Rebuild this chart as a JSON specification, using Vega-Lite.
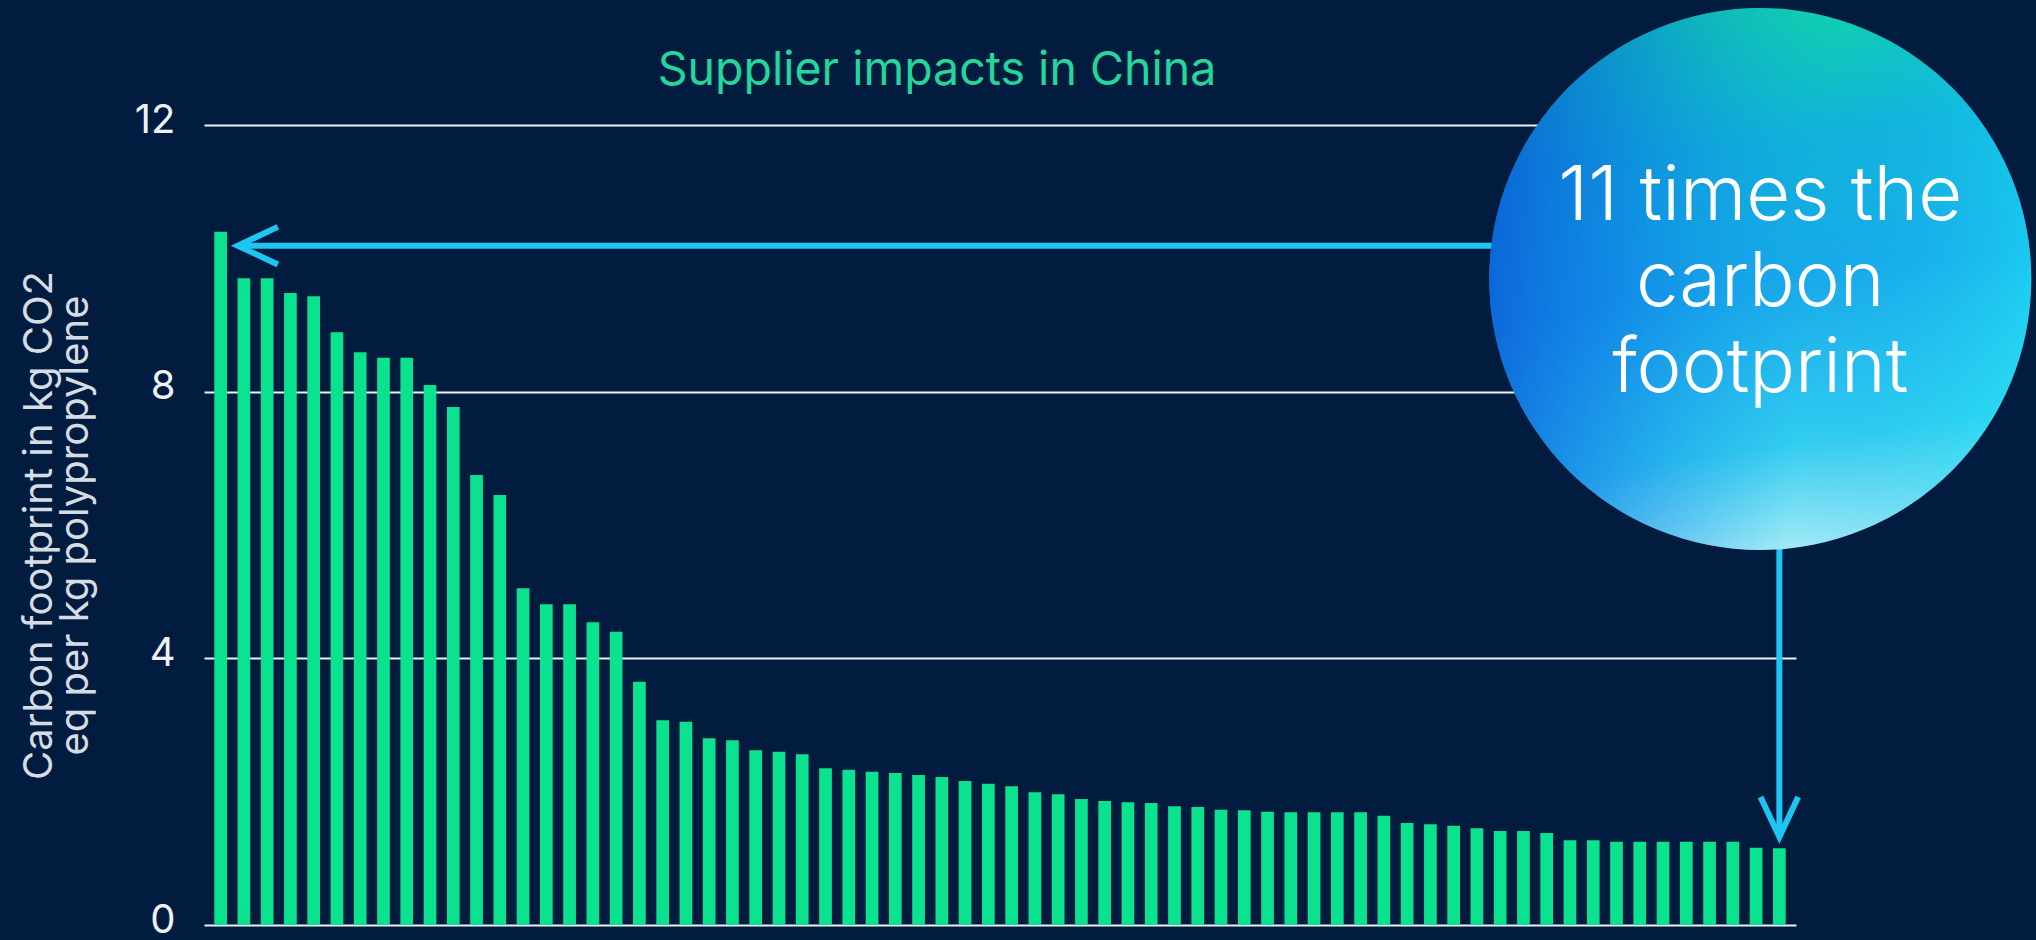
{
  "$schema": "https://vega.github.io/schema/vega-lite/v6.json",
  "width": 1592,
  "height": 800,
  "autosize": {"type": "none"},
  "padding": {"left": 204, "top": 125, "right": 240, "bottom": 15},
  "background": "#011c3e",
  "config": {"view": {"stroke": null}, "font": "Inter"},
  "datasets": {
    "bars": [
      {"rank": 1, "value": 10.40}, {"rank": 2, "value": 9.70}, {"rank": 3, "value": 9.70},
      {"rank": 4, "value": 9.48}, {"rank": 5, "value": 9.43}, {"rank": 6, "value": 8.89},
      {"rank": 7, "value": 8.59}, {"rank": 8, "value": 8.51}, {"rank": 9, "value": 8.51},
      {"rank": 10, "value": 8.10}, {"rank": 11, "value": 7.77}, {"rank": 12, "value": 6.75},
      {"rank": 13, "value": 6.45}, {"rank": 14, "value": 5.05}, {"rank": 15, "value": 4.81},
      {"rank": 16, "value": 4.81}, {"rank": 17, "value": 4.54}, {"rank": 18, "value": 4.40},
      {"rank": 19, "value": 3.65}, {"rank": 20, "value": 3.07}, {"rank": 21, "value": 3.05},
      {"rank": 22, "value": 2.80}, {"rank": 23, "value": 2.77}, {"rank": 24, "value": 2.62},
      {"rank": 25, "value": 2.60}, {"rank": 26, "value": 2.56}, {"rank": 27, "value": 2.35},
      {"rank": 28, "value": 2.33}, {"rank": 29, "value": 2.30}, {"rank": 30, "value": 2.28},
      {"rank": 31, "value": 2.25}, {"rank": 32, "value": 2.22}, {"rank": 33, "value": 2.16},
      {"rank": 34, "value": 2.12}, {"rank": 35, "value": 2.08}, {"rank": 36, "value": 1.99},
      {"rank": 37, "value": 1.96}, {"rank": 38, "value": 1.89}, {"rank": 39, "value": 1.86},
      {"rank": 40, "value": 1.84}, {"rank": 41, "value": 1.83}, {"rank": 42, "value": 1.78},
      {"rank": 43, "value": 1.77}, {"rank": 44, "value": 1.73}, {"rank": 45, "value": 1.72},
      {"rank": 46, "value": 1.70}, {"rank": 47, "value": 1.69}, {"rank": 48, "value": 1.69},
      {"rank": 49, "value": 1.69}, {"rank": 50, "value": 1.69}, {"rank": 51, "value": 1.64},
      {"rank": 52, "value": 1.53}, {"rank": 53, "value": 1.51}, {"rank": 54, "value": 1.49},
      {"rank": 55, "value": 1.45}, {"rank": 56, "value": 1.41}, {"rank": 57, "value": 1.41},
      {"rank": 58, "value": 1.38}, {"rank": 59, "value": 1.27}, {"rank": 60, "value": 1.27},
      {"rank": 61, "value": 1.25}, {"rank": 62, "value": 1.25}, {"rank": 63, "value": 1.25},
      {"rank": 64, "value": 1.25}, {"rank": 65, "value": 1.25}, {"rank": 66, "value": 1.25},
      {"rank": 67, "value": 1.16}, {"rank": 68, "value": 1.15}
    ]
  },
  "encoding": {
    "x": {"field": "rank", "type": "quantitative", "scale": {"domain": [0.5, 68.5]}, "axis": null},
    "y": {
      "field": "value",
      "type": "quantitative",
      "scale": {"domain": [0, 12]},
      "axis": {
        "values": [0, 4, 8, 12],
        "title": ["Carbon footprint in kg CO2", "eq per kg polypropylene"],
        "grid": true,
        "gridColor": "#eef0f3",
        "gridWidth": 2,
        "gridOpacity": 1,
        "domain": false,
        "ticks": false,
        "labelFont": "Inter",
        "labelFontSize": 40,
        "labelFontWeight": 400,
        "labelColor": "#eef1f5",
        "labelPadding": 29,
        "labelOffset": -5,
        "titleFont": "Inter",
        "titleFontSize": 40,
        "titleFontWeight": 400,
        "titleColor": "#d6dce4",
        "titleLineHeight": 36,
        "titleAngle": -90,
        "titleAlign": "center",
        "titleBaseline": "middle",
        "titleX": -165,
        "titleY": 400
      }
    }
  },
  "layer": [
    {
      "data": {"name": "bars"},
      "mark": {"type": "bar", "color": "#0be290", "size": 12.7}
    },
    {
      "data": {"values": [{"rank": 1.74, "rank2": 60, "value": 10.19}]},
      "mark": {"type": "rule", "color": "#1ec5f2", "strokeWidth": 6},
      "encoding": {"x2": {"field": "rank2"}}
    },
    {
      "data": {"values": [{"rank": 68, "value": 1.32, "value2": 7}]},
      "mark": {"type": "rule", "color": "#1ec5f2", "strokeWidth": 6},
      "encoding": {"y2": {"field": "value2"}}
    },
    {
      "data": {"values": [{"rank": 1.74, "value": 10.19}]},
      "mark": {"type": "point", "shape": "M1,-0.47L0,0L1,0.47", "filled": false, "stroke": "#1ec5f2", "strokeWidth": 6, "size": 6400, "opacity": 1, "strokeJoin": "miter"}
    },
    {
      "data": {"values": [{"rank": 68, "value": 1.32}]},
      "mark": {"type": "point", "shape": "M-0.47,-1L0,0L0.47,-1", "filled": false, "stroke": "#1ec5f2", "strokeWidth": 6, "size": 6400, "opacity": 1, "strokeJoin": "miter"}
    },
    {
      "data": {"values": [{"rank": 31.79, "value": 12.6, "label": "Supplier impacts in China"}]},
      "mark": {"type": "text", "fontSize": 46.5, "font": "Inter", "fontWeight": 400, "color": "#22d69c", "align": "center", "baseline": "alphabetic"},
      "encoding": {"text": {"field": "label"}}
    },
    {
      "data": {"values": [{"rank": 67.18, "value": 9.69}]},
      "mark": {
        "type": "point", "shape": "circle", "size": 293764, "filled": true, "opacity": 1, "strokeWidth": 0,
        "fill": {
          "gradient": "linear", "x1": 0.45, "y1": 0, "x2": 0.6, "y2": 1,
          "stops": [
            {"offset": 0, "color": "#0fd9a2"},
            {"offset": 0.25, "color": "#10b4d8"},
            {"offset": 0.5, "color": "#18aaea"},
            {"offset": 0.8, "color": "#34d0f0"},
            {"offset": 1, "color": "#b4f2f8"}
          ]
        }
      }
    },
    {
      "data": {"values": [{"rank": 67.18, "value": 9.69}]},
      "mark": {
        "type": "point", "shape": "circle", "size": 293764, "filled": true, "opacity": 1, "strokeWidth": 0,
        "fill": {
          "gradient": "linear", "x1": 0, "y1": 0.45, "x2": 1, "y2": 0.55,
          "stops": [
            {"offset": 0, "color": "rgba(10,85,215,0.8)"},
            {"offset": 0.25, "color": "rgba(12,110,228,0.5)"},
            {"offset": 0.6, "color": "rgba(20,160,235,0.08)"},
            {"offset": 1, "color": "rgba(30,230,245,0.5)"}
          ]
        }
      }
    },
    {
      "data": {"values": [{"rank": 67.18, "value": 10.57, "label": "11 times the\ncarbon\nfootprint"}]},
      "mark": {"type": "text", "lineBreak": "\n", "fontSize": 76, "lineHeight": 86, "font": "Inter", "fontWeight": 300, "color": "#ffffff", "align": "center", "baseline": "alphabetic"},
      "encoding": {"text": {"field": "label"}}
    }
  ]
}
